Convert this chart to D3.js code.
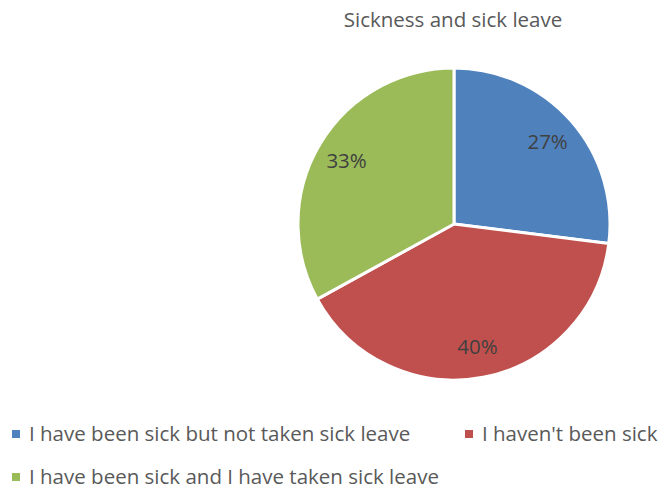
<!DOCTYPE html>
<html>
<head>
<meta charset="utf-8">
<script src="https://cdn.jsdelivr.net/npm/d3@7"></script>
<style>
  html, body { margin: 0; padding: 0; background: #fff; }
  svg { display: block; }
  text { font-family: "Open Sans", "Liberation Sans", sans-serif; }
</style>
</head>
<body>
<svg id="chart" width="662" height="490"></svg>
<script>
// Survey answers about sickness and sick leave (percent of respondents)
const categories = [
  "I have been sick but not taken sick leave",
  "I haven't been sick",
  "I have been sick and I have taken sick leave"
];
const shares = [27, 40, 33];
const colors = ["#4F81BD", "#C0504D", "#9BBB59"];
const title = "Sickness and sick leave";

const svg = d3.select("#chart");
const cx = 454, cy = 224, R = 156;

svg.append("text")
  .attr("x", 453).attr("y", 27)
  .attr("text-anchor", "middle")
  .attr("font-size", 20.5)
  .attr("fill", "#595959")
  .text(title);

const data = categories.map((c, i) => ({ label: c, value: shares[i], color: colors[i] }));

const pie = d3.pie().value(d => d.value).sort(null);
const arc = d3.arc().innerRadius(0).outerRadius(R);
const labelArc = d3.arc().innerRadius(R * 0.8).outerRadius(R * 0.8);

const g = svg.append("g").attr("transform", `translate(${cx},${cy})`);
const arcs = pie(data);

g.selectAll("path.slice")
  .data(arcs)
  .join("path")
  .attr("class", "slice")
  .attr("d", arc)
  .attr("fill", d => d.data.color)
  .attr("stroke", "#fff")
  .attr("stroke-width", 3)
  .attr("stroke-linejoin", "round");

g.selectAll("text.pct")
  .data(arcs)
  .join("text")
  .attr("class", "pct")
  .attr("transform", d => `translate(${labelArc.centroid(d)})`)
  .attr("text-anchor", "middle")
  .attr("dy", "0.35em")
  .attr("font-size", 20.5)
  .attr("fill", "#404040")
  .text(d => d3.format(".0f")(d.data.value) + "%");

// Legend: two items on the first row, one on the second
const legendPos = [
  { x: 12, y: 434 },
  { x: 465, y: 434 },
  { x: 12, y: 477 }
];
const legend = svg.selectAll("g.legend")
  .data(data)
  .join("g")
  .attr("class", "legend")
  .attr("transform", (d, i) => `translate(${legendPos[i].x},${legendPos[i].y})`);

legend.append("rect")
  .attr("x", 0).attr("y", -4)
  .attr("width", 8).attr("height", 8)
  .attr("fill", d => d.color);

legend.append("text")
  .attr("x", 17).attr("y", 0)
  .attr("dy", "0.35em")
  .attr("font-size", 20.5)
  .attr("fill", "#595959")
  .text(d => d.label);
</script>
</body>
</html>
